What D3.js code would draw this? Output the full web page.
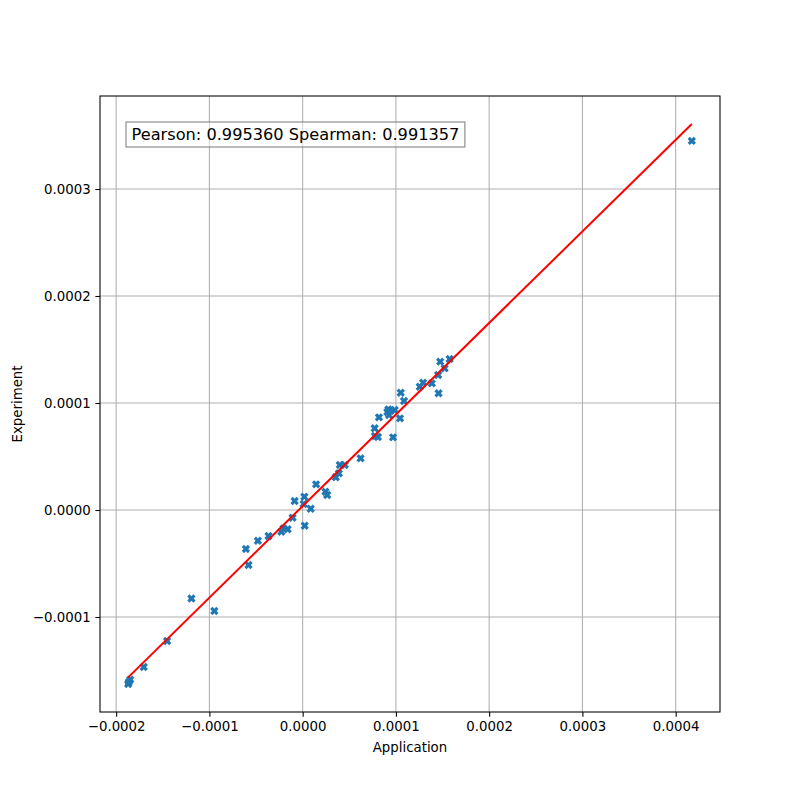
<!DOCTYPE html>
<html>
<head>
<meta charset="utf-8">
<script src="https://cdn.jsdelivr.net/npm/d3@7"></script>
<style>
  body { margin: 0; background: #fff; }
  text { font-family: "DejaVu Sans", sans-serif; }
</style>
</head>
<body>
<div id="chartDiv"></div>
<script>
// values (units of 1e-4)
var application = [-1.871, -1.865, -1.849, -1.704, -1.453, -1.193, -0.947, -0.609, -0.581, -0.480,
    -0.366, -0.229, -0.205, -0.161, -0.108, -0.086, 0.018, 0.011, 0.022, 0.086,
    0.144, 0.244, 0.263, 0.355, 0.388, 0.398, 0.452, 0.621, 0.775, 0.807,
    0.969, 0.772, 0.818, 0.919, 0.944, 0.908, 0.987, 0.926, 1.044, 1.087,
    1.052, 1.256, 1.292, 1.385, 1.457, 1.453, 1.522, 1.475, 1.576, 4.173];
var experiment = [-1.626, -1.608, -1.585, -1.467, -1.224, -0.827, -0.944, -0.364, -0.514, -0.287,
    -0.243, -0.203, -0.171, -0.180, -0.072, 0.084, 0.124, 0.056, -0.147, 0.012,
    0.240, 0.171, 0.140, 0.306, 0.343, 0.421, 0.421, 0.483, 0.692, 0.682,
    0.679, 0.764, 0.866, 0.941, 0.928, 0.916, 0.935, 0.888, 0.857, 1.019,
    1.096, 1.152, 1.190, 1.184, 1.091, 1.262, 1.324, 1.386, 1.411, 3.449];
var fitSlope = 0.8556, fitIntercept = 0.037;
var xTicks = [-2, -1, 0, 1, 2, 3, 4];
var yTicks = [-1, 0, 1, 2, 3];
var boxText = "Pearson: 0.995360 Spearman: 0.991357";

var width = 800, height = 800;
var margin = {left: 100, right: 80, top: 96, bottom: 88};
var plotW = width - margin.left - margin.right,
    plotH = height - margin.top - margin.bottom;

var data = application.map(function (d, i) {
    return {x: d * 1e-4, y: experiment[i] * 1e-4};
});

var xMin = d3.min(data, function (d) { return d.x; }),
    xMax = d3.max(data, function (d) { return d.x; });
var fit = [xMin, xMax].map(function (x) {
    return {x: x, y: fitSlope * x + fitIntercept * 1e-4};
});

// matplotlib style 5% margins
function padded(vals) {
    var e = d3.extent(vals), r = e[1] - e[0];
    return [e[0] - 0.05 * r, e[1] + 0.05 * r];
}
var x = d3.scaleLinear()
    .domain(padded([xMin, xMax]))
    .range([0, plotW]);
var y = d3.scaleLinear()
    .domain(padded(data.map(function (d) { return d.y; }).concat(fit.map(function (d) { return d.y; }))))
    .range([plotH, 0]);

var svg = d3.select("#chartDiv").append("svg")
    .attr("width", width)
    .attr("height", height);

var g = svg.append("g")
    .attr("transform", "translate(" + margin.left + "," + margin.top + ")");

var fmt = d3.format(".4f");

// grid
g.append("g").selectAll("line")
    .data(xTicks).enter().append("line")
    .attr("x1", function (d) { return x(d * 1e-4); })
    .attr("x2", function (d) { return x(d * 1e-4); })
    .attr("y1", 0).attr("y2", plotH)
    .attr("stroke", "#b0b0b0").attr("stroke-width", 1.07);
g.append("g").selectAll("line")
    .data(yTicks).enter().append("line")
    .attr("y1", function (d) { return y(d * 1e-4); })
    .attr("y2", function (d) { return y(d * 1e-4); })
    .attr("x1", 0).attr("x2", plotW)
    .attr("stroke", "#b0b0b0").attr("stroke-width", 1.07);

// axes
var xAxis = g.append("g")
    .attr("transform", "translate(0," + plotH + ")")
    .call(d3.axisBottom(x).tickValues(xTicks.map(function (d) { return d * 1e-4; }))
        .tickFormat(fmt).tickSize(4.67).tickPadding(4.67).tickSizeOuter(0));
var yAxis = g.append("g")
    .call(d3.axisLeft(y).tickValues(yTicks.map(function (d) { return d * 1e-4; }))
        .tickFormat(fmt).tickSize(4.67).tickPadding(4.67).tickSizeOuter(0));
[xAxis, yAxis].forEach(function (a) {
    a.select(".domain").remove();
    a.selectAll("line").attr("stroke", "#000").attr("stroke-width", 1.07);
    a.selectAll("text").attr("font-size", "13.33px").attr("fill", "#000")
        .style("font-family", "'DejaVu Sans', sans-serif");
});

// markers: filled X
function xMarker(L, t) {
    var pts = [[t, t], [t, L], [-t, L], [-t, t], [-L, t], [-L, -t], [-t, -t], [-t, -L], [t, -L], [t, -t], [L, -t], [L, t]];
    var c = Math.SQRT1_2;
    return "M" + pts.map(function (p) {
        return [(p[0] - p[1]) * c, (p[0] + p[1]) * c].join(",");
    }).join("L") + "Z";
}
var markerPath = xMarker(4.3, 1.6);

g.append("g").selectAll("path")
    .data(data).enter().append("path")
    .attr("d", markerPath)
    .attr("transform", function (d) { return "translate(" + x(d.x) + "," + y(d.y) + ")"; })
    .attr("fill", "#1f77b4");

// regression line
g.append("path")
    .datum(fit)
    .attr("d", d3.line().x(function (d) { return x(d.x); }).y(function (d) { return y(d.y); }))
    .attr("fill", "none")
    .attr("stroke", "red")
    .attr("stroke-width", 2);

// frame
g.append("rect")
    .attr("width", plotW).attr("height", plotH)
    .attr("fill", "none").attr("stroke", "#000").attr("stroke-width", 1.07);

// text box
var box = g.append("g").attr("transform", "translate(26,26)");
var bt = box.append("text")
    .attr("x", 5.5).attr("y", 12.5)
    .attr("dy", "0.35em")
    .attr("font-size", "16.2px")
    .attr("fill", "#000")
    .text(boxText);
var bw = bt.node().getComputedTextLength();
box.insert("rect", "text")
    .attr("width", bw + 11).attr("height", 25)
    .attr("fill", "#fff").attr("fill-opacity", 0.5)
    .attr("stroke", "#808080").attr("stroke-width", 1.07);

// axis labels
svg.append("text")
    .attr("x", margin.left + plotW / 2).attr("y", 752)
    .attr("text-anchor", "middle").attr("font-size", "13.33px")
    .text("Application");
svg.append("text")
    .attr("transform", "translate(22," + (margin.top + plotH / 2) + ") rotate(-90)")
    .attr("text-anchor", "middle").attr("font-size", "13.33px")
    .text("Experiment");
</script>
</body>
</html>
